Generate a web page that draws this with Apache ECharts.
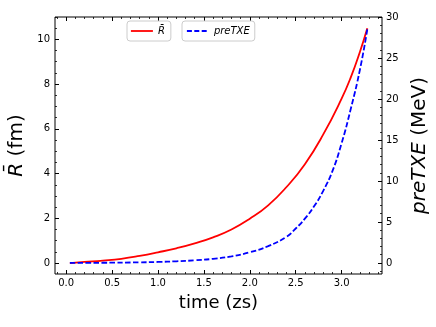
<!DOCTYPE html>
<html>
<head>
<meta charset="utf-8">
<script src="https://cdn.jsdelivr.net/npm/echarts@6/dist/echarts.min.js"></script>
<style>
html,body{margin:0;padding:0;background:#fff;}
#chart{width:436px;height:327px;}
</style>
</head>
<body>
<div id="chart"></div>
<script>
// ---- data ----
const timeR   = [0.04, 0.2, 0.4, 0.6, 0.8, 1.0, 1.2, 1.4, 1.6, 1.8, 2.0, 2.2, 2.4, 2.6, 2.8, 3.0, 3.1, 3.2, 3.28];
const valuesR = [0.00, 0.05, 0.11, 0.19, 0.32, 0.48, 0.66, 0.88, 1.15, 1.50, 1.98, 2.58, 3.40, 4.42, 5.75, 7.35, 8.3, 9.45, 10.5];
const timeE   = [0.04, 0.4, 0.8, 1.0, 1.2, 1.4, 1.6, 1.8, 2.0, 2.2, 2.4, 2.5, 2.6, 2.7, 2.8, 2.9, 3.0, 3.1, 3.2, 3.28];
const valuesE = [0.00, 0.02, 0.07, 0.12, 0.2, 0.32, 0.5, 0.8, 1.3, 2.05, 3.2, 4.2, 5.4, 6.9, 8.8, 11.2, 14.6, 18.8, 23.6, 28.5];

const xTickLabels = [0.0, 0.5, 1.0, 1.5, 2.0, 2.5, 3.0];
const yLeftTickLabels = [0, 2, 4, 6, 8, 10];
const yRightTickLabels = [0, 5, 10, 15, 20, 25, 30];

const seriesNames = ['R', 'preTXE'];

// ---- axis ranges ----
const X_MIN = -0.122, X_MAX = 3.44;
const YL_MIN = -0.49, YL_MAX = 11.0;
const YR_MIN = -1.35, YR_MAX = 30.0;

function minorValues(lo, hi, step) {
  const out = [];
  const start = Math.ceil(lo / step - 1e-9);
  const end = Math.floor(hi / step + 1e-9);
  for (let k = start; k <= end; k++) out.push(Math.round(k * step * 1000) / 1000);
  return out;
}
const xMinor = minorValues(X_MIN, X_MAX, 0.1);
const ylMinor = minorValues(YL_MIN, YL_MAX, 0.5);
const yrMinor = minorValues(YR_MIN, YR_MAX, 1);

const FONT = 'DejaVu Sans';
const GRID = {left: 55, right: 54, top: 17, bottom: 53, outerBoundsMode: 'none'};
const tickColor = '#000';

function majorTick(vals) {
  return {show: true, inside: true, length: 4, customValues: vals, lineStyle: {color: tickColor, width: 1}};
}
function minorTick(vals) {
  return {show: true, inside: true, length: 2, customValues: vals, lineStyle: {color: tickColor, width: 0.8}};
}
const noLabel = {show: false};
const common = {type: 'value', splitLine: {show: false}, axisLine: {show: false, onZero: false}};

const legendText = {fontFamily: FONT, fontSize: 10, color: '#000', rich: {i: {fontStyle: 'italic', fontFamily: FONT, fontSize: 10}}};
const NAME_SIZE = 20;

const chart = echarts.init(document.getElementById('chart'), null, {renderer: 'canvas'});
const option = {
  animation: false,
  backgroundColor: '#fff',
  textStyle: {fontFamily: FONT},
  grid: [
    Object.assign({show: true, borderColor: '#000', borderWidth: 1, backgroundColor: 'transparent'}, GRID),
    Object.assign({}, GRID)
  ],
  legend: [
    {
      data: [seriesNames[0]], left: 127, top: 21,
      padding: [5, 6, 5, 3], itemWidth: 22, itemHeight: 10, itemGap: 5,
      borderColor: '#ccc', borderWidth: 1, borderRadius: 3,
      itemStyle: {opacity: 0},
      lineStyle: {width: 1.8},
      formatter: () => '{i|R\u0304}',
      textStyle: legendText
    },
    {
      data: [seriesNames[1]], left: 182, top: 21,
      padding: [5, 5, 5, 4], itemWidth: 22, itemHeight: 10, itemGap: 5,
      borderColor: '#ccc', borderWidth: 1, borderRadius: 3,
      itemStyle: {opacity: 0},
      lineStyle: {width: 1.8, type: [5, 2.4]},
      formatter: () => '{i|preTXE}',
      textStyle: legendText
    }
  ],
  xAxis: [
    Object.assign({}, common, {
      gridIndex: 0, position: 'bottom', min: X_MIN, max: X_MAX,
      axisTick: majorTick(xTickLabels),
      axisLabel: {customValues: xTickLabels, formatter: v => v.toFixed(1), margin: 4, fontSize: 10, color: '#000', fontFamily: FONT},
      name: 'time (zs)', nameLocation: 'middle', nameGap: 20,
      nameTextStyle: {fontSize: 18, color: '#000', fontFamily: FONT, verticalAlign: 'top'}
    }),
    Object.assign({}, common, {
      gridIndex: 0, position: 'top', min: X_MIN, max: X_MAX,
      axisTick: majorTick(xTickLabels), axisLabel: noLabel
    }),
    Object.assign({}, common, {
      gridIndex: 1, position: 'bottom', min: X_MIN, max: X_MAX,
      axisTick: minorTick(xMinor), axisLabel: noLabel
    }),
    Object.assign({}, common, {
      gridIndex: 1, position: 'top', min: X_MIN, max: X_MAX,
      axisTick: minorTick(xMinor), axisLabel: noLabel
    })
  ],
  yAxis: [
    Object.assign({}, common, {
      gridIndex: 0, position: 'left', min: YL_MIN, max: YL_MAX,
      axisTick: majorTick(yLeftTickLabels),
      axisLabel: {customValues: yLeftTickLabels, margin: 5, fontSize: 10, color: '#000', fontFamily: FONT},
      name: '{i|R\u0304} (fm)', nameLocation: 'middle', nameRotate: 90, nameGap: 18,
      nameTextStyle: {fontSize: NAME_SIZE, color: '#000', fontFamily: FONT, rich: {i: {fontStyle: 'italic', fontSize: NAME_SIZE, fontFamily: FONT}}}
    }),
    Object.assign({}, common, {
      gridIndex: 0, position: 'right', min: YR_MIN, max: YR_MAX,
      axisTick: majorTick(yRightTickLabels),
      axisLabel: {customValues: yRightTickLabels, margin: 4, fontSize: 10, color: '#000', fontFamily: FONT},
      name: '{i|preTXE} (MeV)', nameLocation: 'middle', nameRotate: 90, nameGap: 17,
      nameTextStyle: {fontSize: NAME_SIZE, color: '#000', fontFamily: FONT, rich: {i: {fontStyle: 'italic', fontSize: NAME_SIZE, fontFamily: FONT}}}
    }),
    Object.assign({}, common, {
      gridIndex: 1, position: 'left', min: YL_MIN, max: YL_MAX,
      axisTick: minorTick(ylMinor), axisLabel: noLabel
    }),
    Object.assign({}, common, {
      gridIndex: 1, position: 'right', min: YR_MIN, max: YR_MAX,
      axisTick: minorTick(yrMinor), axisLabel: noLabel
    })
  ],
  series: [
    {
      name: seriesNames[0], type: 'line', xAxisIndex: 0, yAxisIndex: 0,
      data: timeR.map((t, i) => [t, valuesR[i]]),
      symbol: 'none', smooth: 0.5,
      lineStyle: {color: '#ff0000', width: 1.8},
      itemStyle: {color: '#ff0000'}
    },
    {
      name: seriesNames[1], type: 'line', xAxisIndex: 0, yAxisIndex: 1,
      data: timeE.map((t, i) => [t, valuesE[i]]),
      symbol: 'none', smooth: 0.5,
      lineStyle: {color: '#0000ff', width: 1.8, type: [5.5, 2.4]},
      itemStyle: {color: '#0000ff'}
    }
  ]
};
chart.setOption(option);
</script>
</body>
</html>
